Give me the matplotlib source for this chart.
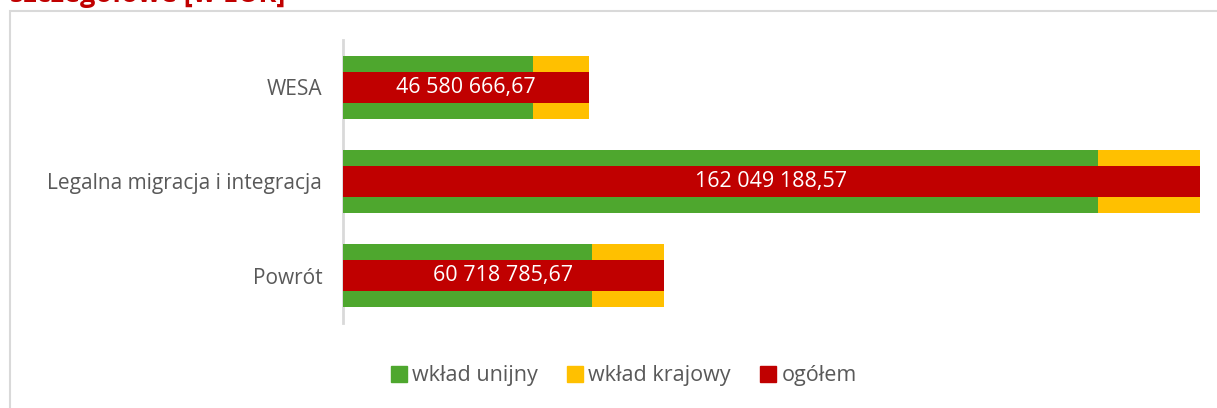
import matplotlib
matplotlib.use("Agg")
import matplotlib.pyplot as plt
from matplotlib.patches import Rectangle
from matplotlib.lines import Line2D

categories = ["WESA", "Legalna migracja i integracja", "Powrót"]
eu_contrib = [36.0e6, 142.7e6, 47.0e6]
total = [46580666.67, 162049188.57, 60718785.67]
national_contrib = [t - e for t, e in zip(total, eu_contrib)]
legend_labels = ["wkład unijny", "wkład krajowy", "ogółem"]
title_text = "szczegółowe [w EUR]"

GREEN = "#4EA72E"
YELLOW = "#FFC000"
RED = "#C00000"
GRAY_TXT = "#595959"
GRID = "#D9D9D9"

plt.rcParams['font.family'] = ['Open Sans', 'DejaVu Sans']

W, H = 1217, 408
fig = plt.figure(figsize=(W / 100, H / 100), dpi=100)

# outer chart border
fig.patches.append(Rectangle((9.5 / W, -0.1), 1.2, (H - 11) / H + 0.1,
                             transform=fig.transFigure, fill=False,
                             edgecolor=GRID, lw=1.5, clip_on=False))
# cropped title
fig.text(10 / W, 1 - 2 / H, title_text, color=RED, fontsize=19.5,
         fontweight='bold', va='baseline', ha='left')

ax = fig.add_axes([343 / W, (H - 323) / H, (1200 - 343) / W, (323 - 40) / H])
y = list(range(len(categories)))

ax.barh(y, eu_contrib, height=0.667, color=GREEN, label=legend_labels[0])
ax.barh(y, national_contrib, left=eu_contrib, height=0.667, color=YELLOW,
        label=legend_labels[1])
ax.barh(y, total, height=0.33, color=RED, label=legend_labels[2])

def fmt(v):
    s = f"{v:,.2f}"
    return s.replace(",", " ").replace(".", ",")

for yi, t in zip(y, total):
    ax.text(t / 2, yi, fmt(t), color="white", fontsize=15.5,
            ha='center', va='center')

ax.set_xlim(0, max(total))
ax.set_ylim(2.5, -0.5)
ax.set_yticks(y)
ax.set_yticklabels(categories, color=GRAY_TXT, fontsize=15)
ax.tick_params(axis='y', length=0, pad=15)
ax.set_xticks([])
for s in ['top', 'right', 'bottom']:
    ax.spines[s].set_visible(False)
ax.spines['left'].set_color(GRID)
ax.spines['left'].set_linewidth(2)
ax.spines['left'].set_zorder(0.5)

handles = [Line2D([], [], marker='s', linestyle='none', markersize=11,
                  markerfacecolor=c, markeredgecolor=c)
           for c in (GREEN, YELLOW, RED)]
fig.legend(handles, legend_labels, loc='center', ncol=3, frameon=False,
           bbox_to_anchor=(623 / W, 1 - 376 / H), fontsize=15.5,
           labelcolor=GRAY_TXT, handletextpad=0.15, columnspacing=1.3,
           handlelength=0.9)

fig.savefig("out.png", dpi=100)
